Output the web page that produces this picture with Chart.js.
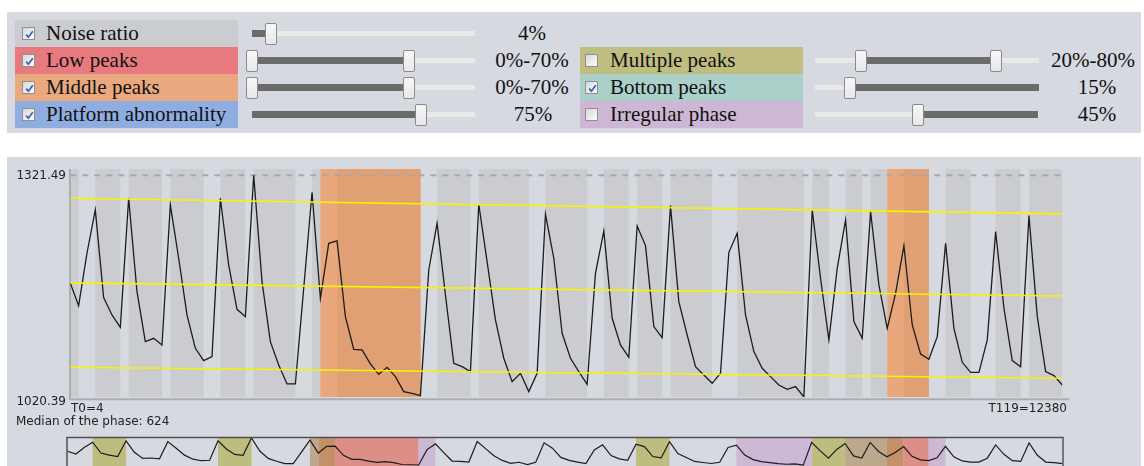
<!DOCTYPE html>
<html><head><meta charset="utf-8">
<script src="https://cdn.jsdelivr.net/npm/chart.js@4/dist/chart.umd.min.js"></script>
<style>
html,body{margin:0;padding:0;background:#fff;width:1144px;height:466px;overflow:hidden;}
body{position:relative;font-family:"Liberation Serif","Times New Roman",serif;}
.panel{position:absolute;background:#d6d9e0;}
.lbl{position:absolute;height:27px;width:223px;}
.cb{position:absolute;width:13px;height:13px;box-sizing:border-box;border:1px solid #8e8f8f;background:linear-gradient(135deg,#d8d8d8,#fbfbfb);}
.cb svg{position:absolute;left:1px;top:1px;}
.lt{position:absolute;line-height:27px;height:27px;font-size:21px;color:#111;white-space:nowrap;}
.track{position:absolute;height:5px;background:#e9e9ea;}
.fill{position:absolute;height:7px;background:#6b6b6b;}
.thumb{position:absolute;width:12px;height:22px;background:linear-gradient(#f7f7f7,#e8e8e8);border:1px solid #8a8a8a;border-radius:2px;box-sizing:border-box;}
.val{position:absolute;font-size:21px;line-height:27px;height:27px;text-align:center;width:140px;color:#111;white-space:nowrap;}
.ax{position:absolute;font-family:"DejaVu Sans",sans-serif;font-size:12px;color:#222;white-space:nowrap;line-height:14px;}
canvas{position:absolute;left:0;}
</style></head>
<body>
<div class="panel" style="left:7px;top:12px;width:1134px;height:121px"></div>
<div class="panel" style="left:7px;top:157px;width:1134px;height:320px"></div>
<div id="controls"></div>
<canvas id="main" width="1144" height="260" style="top:157px"></canvas>
<canvas id="mini" width="1144" height="42" style="top:430px"></canvas>
<div class="ax" style="left:0;width:66px;text-align:right;top:168px">1321.49</div>
<div class="ax" style="left:0;width:66px;text-align:right;top:394px">1020.39</div>
<div class="ax" style="left:71px;top:401px">T0=4</div>
<div class="ax" style="right:77px;top:401px">T119=12380</div>
<div class="ax" style="left:16px;top:414px">Median of the phase: 624</div>
<script>
// ---------- data ----------
const seriesValues = [
 1174.8,1144.5,1215.6,1274.4,1155.3,1131.8,1115.1,1290.3,1163.5,1095.6,
 1100.1,1091.1,1281.2,1208.8,1131.8,1086.5,1069.8,1075.2,1290.3,1199.7,
 1139.5,1129.5,1321.49,1177.1,1095.6,1063.9,1038.1,1038.1,1168.0,1298.4,
 1154.4,1229.1,1232.3,1129.5,1085.2,1084.3,1065.3,1051.2,1060.7,1048.1,
 1027.7,1025.4,1022.3,1192.9,1256.3,1159.0,1066.2,1061.6,1054.9,1282.1,
 1204.2,1125.0,1073.0,1041.3,1052.6,1027.7,1052.6,1268.5,1208.8,1106.9,
 1073.0,1054.9,1037.6,1188.4,1245.9,1127.3,1091.1,1074.3,1252.7,1226.0,
 1116.0,1101.0,1280.3,1149.9,1104.6,1061.6,1050.3,1039.0,1052.6,1216.9,
 1242.7,1131.8,1082.0,1059.4,1048.1,1036.7,1030.9,1034.5,1020.39,1274.4,
 1181.6,1097.9,1195.2,1260.8,1122.8,1100.1,1272.1,1172.6,1113.7,1161.2,
 1226.0,1118.2,1078.8,1071.6,1102.4,1229.1,1113.7,1067.5,1053.9,1053.9,
 1097.9,1245.0,1140.9,1069.8,1061.6,1266.7,1129.5,1054.9,1049.4,1036.7
];
const trendEnds = [0, 119];
const upperTrend = [1290.3, 1269.0];
const middleTrend = [1175.3, 1157.6];
const lowerTrend = [1060.7, 1045.8];
const yMaxLabel = 1321.49, yMinLabel = 1020.39;
// phases: dark part from peak to trough
const darkBandStart = [0,3,7,12,18,22,29,32,44,49,57,64,68,72,80,89,93,96,100,105,111,115];
const darkBandEnd   = [1,6,11,16,21,27,30,42,48,55,62,67,71,77,88,91,95,98,103,108,114,119];
// middle peaks detected
const middlePeakStart = [30, 98];
const middlePeakEnd   = [42, 103];
// overview bands
const miniBandStart = [3,18,68,89, 29,93, 30,98, 32,100, 42,80,103];
const miniBandEnd   = [7,22,72,93, 30,98, 32,100, 42,103, 44,89,105];
const miniBandType  = ['multiple','multiple','multiple','multiple','mixed','mixed','middle','middle','low','low','irregular','irregular','irregular'];
// controls
const controlNames   = ['Noise ratio','Low peaks','Middle peaks','Platform abnormality','Multiple peaks','Bottom peaks','Irregular phase'];
const controlChecked = [true,true,true,true,false,true,false];
const controlValues  = ['4%','0%-70%','0%-70%','75%','20%-80%','15%','45%'];

// ---------- styles ----------
const LIGHT='#d6d9e0', DARK='#cbccd0', OR_L='#e9a87c', OR_D='#e1a073';
const miniColors = {multiple:'#bebd80', mixed:'#bda88e', middle:'#c49068', low:'#dd8f87', irregular:'#cdb8d6'};
const ctrlStyle = [
 {color:'#cbccd0', left:15, row:0, cb:22, tx:46, trk:[251.5,474.7], thumbs:[271], fill:[251.5,271], vc:532},
 {color:'#e87a7f', left:15, row:1, cb:22, tx:46, trk:[251.5,474.7], thumbs:[252.3,408.7], fill:[252.3,408.7], vc:532},
 {color:'#e9a87d', left:15, row:2, cb:22, tx:46, trk:[251.5,474.7], thumbs:[252.3,408.7], fill:[252.3,408.7], vc:532},
 {color:'#8fade0', left:15, row:3, cb:22, tx:46, trk:[251.5,474.7], thumbs:[421], fill:[251.5,421], vc:533},
 {color:'#bfbe80', left:580, row:1, cb:585, tx:610, trk:[814.5,1038.5], thumbs:[861,995.5], fill:[861,995.5], vc:1093},
 {color:'#abcfc9', left:580, row:2, cb:585, tx:610, trk:[814.5,1038.5], thumbs:[850], fill:[850,1038.5], vc:1097},
 {color:'#cdb7d4', left:580, row:3, cb:585, tx:610, trk:[814.5,1038.5], thumbs:[917.7], fill:[917.7,1038.5], vc:1097}
];
const checkSvg = '<svg width="11" height="11" viewBox="0 0 11 11"><path d="M2.2 5.6 L4.4 8.2 L8.8 2.2" fill="none" stroke="#3d5bb8" stroke-width="1.7"/></svg>';
let html='';
controlNames.forEach((name,k)=>{
  const s=ctrlStyle[k]; const top=20+27*s.row; const cy=top+13.5;
  html+=`<div class="lbl" style="left:${s.left}px;top:${top}px;background:${s.color}"></div>`;
  html+=`<div class="cb" style="left:${s.cb}px;top:${cy-6.5}px">${controlChecked[k]?checkSvg:''}</div>`;
  html+=`<div class="lt" style="left:${s.tx}px;top:${top}px">${name}</div>`;
  html+=`<div class="track" style="left:${s.trk[0]}px;width:${s.trk[1]-s.trk[0]}px;top:${cy-2.5}px"></div>`;
  html+=`<div class="fill" style="left:${s.fill[0]}px;width:${s.fill[1]-s.fill[0]}px;top:${cy-3.5}px"></div>`;
  s.thumbs.forEach(t=>{ html+=`<div class="thumb" style="left:${t-6}px;top:${cy-11}px"></div>`; });
  html+=`<div class="val" style="left:${s.vc-70}px;top:${top}px">${controlValues[k]}</div>`;
});
document.getElementById('controls').innerHTML=html;

const pts = seriesValues.map((v,i)=>({x:i,y:v}));
const trendPts = arr => arr.map((v,k)=>({x:trendEnds[k],y:v}));

const bandPlugin = {
  id:'bands',
  beforeDatasetsDraw(chart){
    const {ctx, chartArea:a, scales:{x,y}} = chart;
    const h=a.bottom-a.top;
    ctx.save();
    ctx.fillStyle=LIGHT; ctx.fillRect(a.left,a.top,a.right-a.left,h);
    darkBandStart.forEach((s,k)=>{
      const x0=x.getPixelForValue(s), x1=x.getPixelForValue(darkBandEnd[k]);
      ctx.fillStyle=DARK; ctx.fillRect(x0,a.top,x1-x0,h);
    });
    middlePeakStart.forEach((s,k)=>{
      const e=middlePeakEnd[k];
      const x0=x.getPixelForValue(s), x1=x.getPixelForValue(e);
      ctx.fillStyle=OR_L; ctx.fillRect(x0,a.top,x1-x0,h);
      darkBandStart.forEach((ds,j)=>{
        const lo=Math.max(s,ds), hi=Math.min(e,darkBandEnd[j]);
        if(hi>lo){ const p0=x.getPixelForValue(lo), p1=x.getPixelForValue(hi); ctx.fillStyle=OR_D; ctx.fillRect(p0,a.top,p1-p0,h); }
      });
    });
    // top reference dashed line
    const yt=y.getPixelForValue(yMaxLabel);
    ctx.strokeStyle='#a9a9ab'; ctx.lineWidth=2; ctx.setLineDash([6,6]);
    ctx.beginPath(); ctx.moveTo(a.left,yt); ctx.lineTo(a.right+3,yt); ctx.stroke();
    ctx.setLineDash([]);
    // axes
    ctx.strokeStyle='#acadb1'; ctx.lineWidth=2;
    ctx.beginPath(); ctx.moveTo(a.left-0.3,a.top); ctx.lineTo(a.left-0.3,a.bottom+3); ctx.stroke();
    ctx.beginPath(); ctx.moveTo(a.left,a.bottom+2.3); ctx.lineTo(a.right+7,a.bottom+2.3); ctx.stroke();
    ctx.restore();
  }
};

Chart.defaults.animation=false;
new Chart(document.getElementById('main'),{
  type:'line',
  data:{datasets:[
    {data:trendPts(upperTrend), borderColor:'#f7f200', borderWidth:1.6, pointRadius:0},
    {data:trendPts(middleTrend), borderColor:'#f7f200', borderWidth:1.6, pointRadius:0},
    {data:trendPts(lowerTrend), borderColor:'#f7f200', borderWidth:1.6, pointRadius:0},
    {data:pts, borderColor:'#1c1c1c', borderWidth:1.3, pointRadius:0, tension:0}
  ]},
  options:{
    responsive:false, animation:false, events:[],
    layout:{padding:{left:70.3, right:1144-1062.3, top:12, bottom:20}},
    scales:{
      x:{type:'linear', min:0, max:119, display:false},
      y:{type:'linear', min:yMinLabel, max:1330.0, display:false}
    },
    plugins:{legend:{display:false}, tooltip:{enabled:false}}
  },
  plugins:[bandPlugin]
});

const miniPlugin = {
  id:'mini',
  beforeDatasetsDraw(chart){
    const {ctx, chartArea:a, scales:{x}} = chart;
    ctx.save();
    miniBandStart.forEach((s,k)=>{
      const x0=x.getPixelForValue(s), x1=x.getPixelForValue(miniBandEnd[k]);
      ctx.fillStyle=miniColors[miniBandType[k]]; ctx.fillRect(x0,a.top,x1-x0,a.bottom-a.top);
    });
    ctx.restore();
  },
  afterDatasetsDraw(chart){
    const {ctx, chartArea:a} = chart;
    ctx.save(); ctx.strokeStyle='#4a4a4a'; ctx.lineWidth=1.4;
    ctx.strokeRect(a.left-0.5,a.top-0.5,a.right-a.left+1,a.bottom-a.top+1);
    ctx.restore();
  }
};
new Chart(document.getElementById('mini'),{
  type:'line',
  data:{datasets:[{data:pts, borderColor:'#1c1c1c', borderWidth:1.2, pointRadius:0}]},
  options:{
    responsive:false, animation:false, events:[],
    layout:{padding:{left:67.5, right:1144-1062.5, top:8, bottom:2}},
    scales:{
      x:{type:'linear', min:0, max:119, display:false},
      y:{type:'linear', min:967, max:yMaxLabel, display:false}
    },
    plugins:{legend:{display:false}, tooltip:{enabled:false}}
  },
  plugins:[miniPlugin]
});
</script>
</body></html>
